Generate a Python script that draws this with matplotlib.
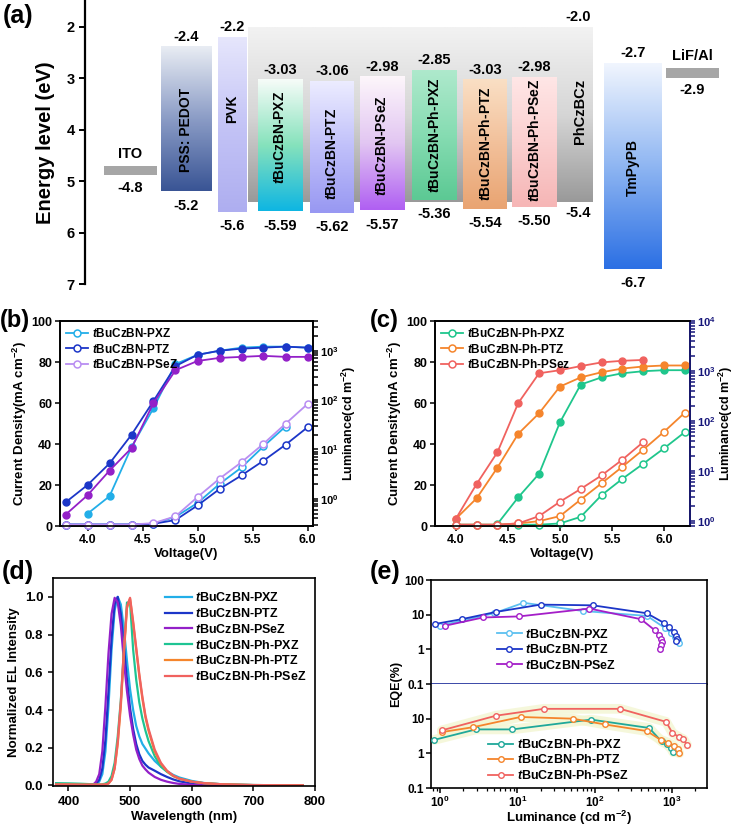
import numpy as np
import matplotlib
matplotlib.use("Agg")
import matplotlib.pyplot as plt
from matplotlib.colors import LinearSegmentedColormap
from matplotlib.ticker import MultipleLocator, FuncFormatter, NullLocator

plt.rcParams["font.family"] = ["Liberation Sans", "DejaVu Sans"]
plt.rcParams["font.weight"] = "bold"
plt.rcParams["axes.labelweight"] = "bold"
plt.rcParams["mathtext.fontset"] = "custom"
plt.rcParams["mathtext.rm"] = "Liberation Sans:bold"
plt.rcParams["mathtext.it"] = "Liberation Sans:italic:bold"
plt.rcParams["mathtext.bf"] = "Liberation Sans:bold"
plt.rcParams["mathtext.default"] = "rm"
plt.rcParams["axes.linewidth"] = 1.2

T = r"$\mathit{t}$"

# ---------------- (a) energy levels ----------------
stack_names = ["PSS: PEDOT", "PVK", T + "BuCzBN-PXZ", T + "BuCzBN-PTZ", T + "BuCzBN-PSeZ",
               T + "BuCzBN-Ph-PXZ", T + "BuCzBN-Ph-PTZ", T + "BuCzBN-Ph-PSeZ", "TmPyPB"]
stack_lumo = [2.4, 2.2, 3.03, 3.06, 2.98, 2.85, 3.03, 2.98, 2.7]
stack_homo = [5.2, 5.6, 5.59, 5.62, 5.57, 5.36, 5.54, 5.50, 6.7]
stack_lumo_txt = ["-2.4", "-2.2", "-3.03", "-3.06", "-2.98", "-2.85", "-3.03", "-2.98", "-2.7"]
stack_homo_txt = ["-5.2", "-5.6", "-5.59", "-5.62", "-5.57", "-5.36", "-5.54", "-5.50", "-6.7"]
host_name = "PhCzBCz"
host_lumo, host_homo = 2.0, 5.4
anode_name, anode_wf = "ITO", 4.8
cathode_name, cathode_wf = "LiF/Al", 2.9

# layout of (a): x spans (in axis pixels), label centres, gradients
stack_x = [(76, 127), (133, 162), (173, 218), (225, 269), (275, 320),
           (327, 372), (378, 422), (427, 472), (519, 577)]
stack_label_y = [4.0, 3.6, 4.16, 4.47, 4.3, 4.1, 4.27, 4.2, 4.73]
stack_grad = [["#e8ecf3", "#8b9cc6", "#3a5595"],
              ["#e6e6fc", "#c4c4f6", "#aeaef0"],
              ["#f6fcf8", "#86e2bc", "#0fb6e2"],
              ["#ececff", "#c0c0fa", "#9898f2"],
              ["#fdf6fb", "#e2c6f2", "#b060f2"],
              ["#aee9cc", "#86dcb2", "#5cc994"],
              ["#fadfc4", "#f2c09a", "#e9a472"],
              ["#ffe6e6", "#fbd0d0", "#f6b6b6"],
              ["#f0f5fe", "#8fb6f2", "#2c70e4"]]
host_x = (163, 508)
host_label_x, host_label_y = 495, 3.65
anode_x = (19, 72)
cathode_x = (581, 634)

# ---------------- (b) ----------------
volt_b = [3.8, 4.0, 4.2, 4.4, 4.6, 4.8, 5.0, 5.2, 5.4, 5.6, 5.8, 6.0]
j_pxz = [np.nan, 6, 14.5, 38.5, 57.5, 79, 83.5, 85.5, 87, 87.5, 87.5, 87]
j_ptz = [11.5, 20, 30.5, 44.5, 61, 78, 83.5, 85.5, 86.5, 87, 87.5, 87]
j_psez = [5.5, 15, 27, 38, 60, 76, 80.5, 82, 82.5, 83, 82.5, 82.5]
lum_b_pxz = [0.3, 0.3, 0.3, 0.3, 0.31, 0.43, 0.82, 1.99, 4.3, 11.5, 29, np.nan]
lum_b_ptz = [0.3, 0.3, 0.3, 0.3, 0.31, 0.37, 0.73, 1.57, 2.97, 5.9, 12.4, 28]
lum_b_psez = [0.3, 0.3, 0.3, 0.3, 0.32, 0.44, 1.08, 2.55, 5.5, 13, 33, 83]

# ---------------- (c) ----------------
volt_c = [4.0, 4.2, 4.4, 4.6, 4.8, 5.0, 5.2, 5.4, 5.6, 5.8, 6.0, 6.2]
j_ph_pxz = [np.nan, np.nan, 1, 14, 25.5, 50.5, 69, 72.5, 74.5, 75.5, 76, 76]
j_ph_ptz = [3.5, 13.5, 28.5, 45, 55, 68, 72.5, 75, 76.8, 77.8, 78.3, 78.3]
j_ph_psez = [3.5, 20.5, 36, 60, 74.5, 76, 78, 79.8, 80.6, 81, np.nan, np.nan]
lum_c_pxz = [0.85, 0.85, 0.85, 0.85, 0.85, 0.9, 1.22, 3.3, 7.0, 14, 28.5, 60]
lum_c_ptz = [0.85, 0.85, 0.85, 0.9, 1.0, 1.26, 2.7, 5.7, 12.2, 26.8, 61, 147]
lum_c_psez = [0.85, 0.85, 0.85, 0.9, 1.26, 2.44, 4.4, 8.2, 16.9, 38, np.nan, np.nan]

# ---------------- (d) EL spectra ----------------
wl = [380, 400, 420, 440, 445, 450, 455, 460, 465, 470, 475, 480, 485, 490, 495, 500,
      505, 510, 515, 520, 525, 530, 540, 550, 560, 570, 580, 600, 620, 650, 700, 750, 780]
el_pxz = [0.008, 0.006, 0.005, 0.004, 0.006, 0.02, 0.06, 0.18, 0.42, 0.72, 0.93, 1.0, 0.96, 0.83, 0.66, 0.51,
          0.40, 0.315, 0.26, 0.22, 0.195, 0.17, 0.13, 0.10, 0.075, 0.056, 0.042, 0.024, 0.013, 0.006, 0.002, 0.001, 0.001]
el_ptz = [0.004, 0.003, 0.003, 0.003, 0.01, 0.03, 0.09, 0.24, 0.50, 0.78, 0.96, 1.0, 0.91, 0.74, 0.56, 0.41,
          0.30, 0.22, 0.165, 0.13, 0.11, 0.095, 0.078, 0.06, 0.045, 0.032, 0.022, 0.01, 0.004, 0.001, 0.0, 0.0, 0.0]
el_psez = [0.004, 0.003, 0.003, 0.004, 0.02, 0.06, 0.18, 0.42, 0.70, 0.91, 0.995, 0.97, 0.85, 0.66, 0.50, 0.37,
           0.27, 0.19, 0.14, 0.105, 0.085, 0.068, 0.045, 0.03, 0.02, 0.013, 0.008, 0.003, 0.001, 0.0, 0.0, 0.0, 0.0]
el_ph_pxz = [0.012, 0.011, 0.009, 0.006, 0.005, 0.005, 0.006, 0.01, 0.02, 0.05, 0.12, 0.26, 0.45, 0.72, 0.97, 0.97,
             0.72, 0.56, 0.44, 0.355, 0.29, 0.235, 0.155, 0.10, 0.072, 0.05, 0.036, 0.02, 0.012, 0.006, 0.002, 0.001, 0.001]
el_ph_ptz = [0.005, 0.005, 0.004, 0.004, 0.004, 0.004, 0.004, 0.005, 0.01, 0.03, 0.09, 0.22, 0.42, 0.70, 0.94, 0.99,
             0.86, 0.72, 0.58, 0.46, 0.36, 0.29, 0.18, 0.115, 0.075, 0.05, 0.035, 0.02, 0.012, 0.006, 0.002, 0.001, 0.001]
el_ph_psez = [0.005, 0.005, 0.004, 0.004, 0.004, 0.004, 0.004, 0.005, 0.01, 0.03, 0.09, 0.23, 0.44, 0.72, 0.95, 0.995,
              0.87, 0.73, 0.59, 0.47, 0.37, 0.30, 0.19, 0.12, 0.078, 0.052, 0.036, 0.02, 0.012, 0.006, 0.002, 0.001, 0.001]

# ---------------- (e) EQE ----------------
eqe_lum_pxz = [1.0, 5.0, 12, 70, 480, 820, 980, 1100, 1200, 1250]
eqe_pxz = [4.8, 11, 22, 12.8, 9.2, 4.1, 2.9, 2.2, 1.8, 1.5]
eqe_lum_ptz = [0.86, 1.9, 5.3, 20, 95, 475, 805, 935, 1070, 1140, 1160, 1140]
eqe_ptz = [5.4, 7.4, 12, 19.5, 18.6, 11, 5.7, 4.3, 3.2, 2.5, 2.0, 1.7]
eqe_lum_psez = [1.16, 3.6, 10.5, 86, 400, 600, 690, 720, 740, 730, 700]
eqe_psez = [4.8, 8.3, 8.9, 15, 7.4, 3.6, 2.6, 2.0, 1.6, 1.3, 1.05]
eqe_lum_ph_pxz = [0.84, 2.9, 8.6, 90, 510, 740, 860, 980, 1050]
eqe_ph_pxz = [2.45, 4.9, 4.9, 9.4, 5.4, 2.2, 1.85, 1.4, 1.07]
eqe_lum_ph_ptz = [1.05, 2.7, 11, 52, 137, 475, 720, 900, 1070, 1200, 1250]
eqe_ph_ptz = [4.1, 5.7, 11.2, 10.0, 6.8, 4.4, 2.45, 2.05, 1.65, 1.3, 1.0]
eqe_lum_ph_psez = [1.05, 5.3, 22, 215, 846, 1020, 1230, 1420, 1580]
eqe_ph_psez = [4.6, 12.2, 19.2, 19.2, 8.1, 3.9, 3.0, 2.55, 1.76]

names_b = [T + "BuCzBN-PXZ", T + "BuCzBN-PTZ", T + "BuCzBN-PSeZ"]
names_c = [T + "BuCzBN-Ph-PXZ", T + "BuCzBN-Ph-PTZ", T + "BuCzBN-Ph-PSez"]
names_e2 = [T + "BuCzBN-Ph-PXZ", T + "BuCzBN-Ph-PTZ", T + "BuCzBN-Ph-PSeZ"]

C_PXZ, C_PTZ, C_PSEZ = "#22aee8", "#1c36c8", "#9320c8"
C_PSEZ_L = "#b98ef2"
C_PH_PXZ, C_PH_PTZ, C_PH_PSEZ = "#1fc68c", "#f5852c", "#f0625f"

W, H = 735, 830
fig = plt.figure(figsize=(W / 100, H / 100), dpi=100)


def box(l, t, r, b):
    return [l / W, 1 - b / H, (r - l) / W, (b - t) / H]


def grad_bar(ax, x0, x1, top, bottom, colors, z=2):
    cmap = LinearSegmentedColormap.from_list("g", colors)
    g = np.linspace(0, 1, 100).reshape(-1, 1)
    ax.imshow(g, cmap=cmap, extent=(x0, x1, bottom, top), origin="upper",
              aspect="auto", zorder=z, interpolation="bilinear")


# ---- (a)
ax = fig.add_axes(box(85, 1, 735, 284))
grad_bar(ax, host_x[0], host_x[1], host_lumo, host_homo, ["#f2f2f2", "#d6d6d6", "#9a9a9a"], z=1)
ax.text(host_x[1] - 15, host_lumo - 0.05, "-2.0", ha="center", va="bottom", fontsize=10.5)
ax.text(host_x[1] - 15, host_homo + 0.08, "-5.4", ha="center", va="top", fontsize=10.5)
ax.text(host_label_x, host_label_y, host_name, rotation=90, ha="center", va="center", fontsize=10.5)
for i, name in enumerate(stack_names):
    x0, x1 = stack_x[i]
    grad_bar(ax, x0, x1, stack_lumo[i], stack_homo[i], stack_grad[i], z=2)
    xc = (x0 + x1) / 2
    ax.text(xc, stack_lumo[i] - 0.06, stack_lumo_txt[i], ha="center", va="bottom", fontsize=10.5, zorder=5)
    ax.text(xc, stack_homo[i] + 0.14, stack_homo_txt[i], ha="center", va="top", fontsize=10.5, zorder=5)
    ax.text(xc, stack_label_y[i], name, rotation=90, ha="center", va="center", fontsize=10, zorder=5)
for (x0, x1), wf, nm in [(anode_x, anode_wf, anode_name), (cathode_x, cathode_wf, cathode_name)]:
    ax.fill_between([x0, x1], wf - 0.09, wf + 0.09, color="#a6a6a6", lw=0, zorder=2)
    xc = (x0 + x1) / 2
    ax.text(xc, wf - 0.2, nm, ha="center", va="bottom", fontsize=10.5)
    ax.text(xc, wf + 0.2, "-%.1f" % wf, ha="center", va="top", fontsize=10.5)
ax.set_xlim(0, 650)
ax.set_ylim(7.0, 1.5)
for s in ["top", "right", "bottom"]:
    ax.spines[s].set_visible(False)
ax.spines["left"].set_linewidth(1.6)
ax.set_xticks([])
ax.set_yticks([2, 3, 4, 5, 6, 7])
ax.tick_params(axis="y", labelsize=10.5, width=1.4, length=4)
ax.set_ylabel("Energy level (eV)", fontsize=14.5, labelpad=8)
fig.text(3 / W, 1 - 16 / H, "(a)", fontsize=18, va="center", ha="left")


def jv_panel(rect, volt, jlist, llist, jcols, lcols, names, xlim, lylim, lticks, right_col="black"):
    ax = fig.add_axes(rect)
    ax2 = ax.twinx()
    for j, c in zip(jlist, jcols):
        ax.plot(volt, j, "-o", color=c, lw=1.3, ms=5, mfc=c, mec=c, zorder=3)
    for lum, c, nm in zip(llist, lcols, names):
        ax2.plot(volt, lum, "-o", color=c, lw=1.3, ms=5, mfc="white", mec=c, mew=1.1,
                 label=nm, clip_on=False)
    ax.set_xlim(*xlim)
    ax.set_ylim(0, 100)
    ax.yaxis.set_major_locator(MultipleLocator(20))
    ax.xaxis.set_major_locator(MultipleLocator(0.5))
    ax.xaxis.set_major_formatter(FuncFormatter(lambda v, p: "%.1f" % v))
    ax2.set_yscale("log")
    ax2.set_ylim(*lylim)
    ax2.set_yticks(lticks)
    ax.tick_params(labelsize=9, width=1.1, length=3.5, pad=2)
    ax2.tick_params(labelsize=8, width=1.1, length=3.5, colors=right_col, which="both", pad=1.5)
    ax2.spines["right"].set_color(right_col)
    ax.set_xlabel("Voltage(V)", fontsize=9.5, labelpad=2)
    ax.set_ylabel("Current Density(mA cm$^{-2}$)", fontsize=9.5, labelpad=2)
    ax2.set_ylabel("Luminance(cd m$^{-2}$)", fontsize=9, labelpad=1)
    ax2.legend(loc="upper left", frameon=False, fontsize=8.5, handlelength=1.9,
               labelspacing=0.22, borderaxespad=0.1, handletextpad=0.3,
               bbox_to_anchor=(0.0, 1.0))
    return ax, ax2


jv_panel(box(60, 321, 313, 526), volt_b, [j_pxz, j_ptz, j_psez],
         [lum_b_pxz, lum_b_ptz, lum_b_psez], [C_PXZ, C_PTZ, C_PSEZ],
         [C_PXZ, C_PTZ, C_PSEZ_L], names_b, (3.75, 6.05), (0.28, 4000), [1, 10, 100, 1000])
fig.text(0 / W, 1 - 320 / H, "(b)", fontsize=17, va="center", ha="left")

jv_panel(box(435, 321, 690, 526), volt_c, [j_ph_pxz, j_ph_ptz, j_ph_psez],
         [lum_c_pxz, lum_c_ptz, lum_c_psez], [C_PH_PXZ, C_PH_PTZ, C_PH_PSEZ],
         [C_PH_PXZ, C_PH_PTZ, C_PH_PSEZ], names_c, (3.8, 6.25), (0.8, 1e4),
         [1, 10, 100, 1000, 10000], right_col="#16167a")
fig.text(370 / W, 1 - 320 / H, "(c)", fontsize=17, va="center", ha="left")

# ---- (d)
axd = fig.add_axes(box(53, 578, 315, 786))
spectra = [el_pxz, el_ptz, el_psez, el_ph_pxz, el_ph_ptz, el_ph_psez]
spec_cols = [C_PXZ, C_PTZ, C_PSEZ, "#1ec493", C_PH_PTZ, C_PH_PSEZ]
spec_names = [T + "BuCzBN-PXZ", T + "BuCzBN-PTZ", T + "BuCzBN-PSeZ",
              T + "BuCzBN-Ph-PXZ", T + "BuCzBN-Ph-PTZ", T + "BuCzBN-Ph-PSeZ"]
for s, c, nm in zip(spectra, spec_cols, spec_names):
    axd.plot(wl, s, color=c, lw=1.6, label=nm)
axd.set_xlim(375, 800)
axd.set_ylim(-0.003, 1.1)
axd.xaxis.set_major_locator(MultipleLocator(100))
axd.yaxis.set_major_locator(MultipleLocator(0.2))
axd.yaxis.set_major_formatter(FuncFormatter(lambda v, p: "%.1f" % v))
axd.tick_params(labelsize=9.5, width=1.1, length=3.5)
axd.set_xlabel("Wavelength (nm)", fontsize=9.5, labelpad=2)
axd.set_ylabel("Normalized EL Intensity", fontsize=9.5, labelpad=3)
axd.legend(loc="upper left", bbox_to_anchor=(0.41, 0.96), frameon=False, fontsize=9,
           handlelength=2.1, labelspacing=0.22, handletextpad=0.3, borderaxespad=0)
fig.text(2 / W, 1 - 572 / H, "(d)", fontsize=18, va="center", ha="left")

# ---- (e)
axe1 = fig.add_axes(box(431, 580, 707, 684))
axe2 = fig.add_axes(box(431, 684, 707, 788), sharex=axe1)
top_sets = [(eqe_lum_pxz, eqe_pxz, "#5cc0f0", names_b[0]),
            (eqe_lum_ptz, eqe_ptz, C_PTZ, names_b[1]),
            (eqe_lum_psez, eqe_psez, "#a41ec8", names_b[2])]
bot_sets = [(eqe_lum_ph_pxz, eqe_ph_pxz, "#1fa89a", names_e2[0]),
            (eqe_lum_ph_ptz, eqe_ph_ptz, C_PH_PTZ, names_e2[1]),
            (eqe_lum_ph_psez, eqe_ph_psez, C_PH_PSEZ, names_e2[2])]
for x, y, c, nm in top_sets:
    axe1.plot(x, y, "-o", color=c, lw=1.3, ms=4, mfc="white", mec=c, mew=1.0, label=nm)
for x, y, c, nm in bot_sets:
    axe2.plot(x, y, "-", color="#f3f6d2", lw=7, alpha=0.8, zorder=1, solid_capstyle="round")
for x, y, c, nm in bot_sets:
    axe2.plot(x, y, "-o", color=c, lw=1.3, ms=4, mfc="white", mec=c, mew=1.0, label=nm, zorder=3)
for a in (axe1, axe2):
    a.set_xscale("log")
    a.set_yscale("log")
    a.set_xlim(0.76, 2870)
    a.set_ylim(0.1, 100)
    a.yaxis.set_minor_locator(NullLocator())
    a.yaxis.set_major_formatter(FuncFormatter(lambda v, p: "%g" % v))
    a.tick_params(labelsize=8.5, width=1.1, length=3.5, which="major", pad=1.5)
    a.tick_params(width=0.9, length=2, which="minor")
axe1.set_yticks([0.1, 1, 10, 100])
axe2.set_yticks([0.1, 1, 10])
axe1.tick_params(labelbottom=False)
axe1.spines["bottom"].set_color("#1a2a9a")
axe2.spines["top"].set_visible(False)
axe2.set_xlabel("Luminance (cd m$^{-2}$)", fontsize=9.5, labelpad=-1)
fig.text(396 / W, 1 - 684 / H, "EQE(%)", rotation=90, fontsize=9, ha="center", va="center")
axe1.legend(loc="center left", bbox_to_anchor=(0.22, 0.33), frameon=False, fontsize=9,
            handlelength=2.0, labelspacing=0.2, handletextpad=0.3, borderaxespad=0)
axe2.legend(loc="center left", bbox_to_anchor=(0.19, 0.27), frameon=False, fontsize=9,
            handlelength=2.0, labelspacing=0.2, handletextpad=0.3, borderaxespad=0)
fig.text(370 / W, 1 - 572 / H, "(e)", fontsize=18, va="center", ha="left")

fig.savefig("out.png", dpi=100)
